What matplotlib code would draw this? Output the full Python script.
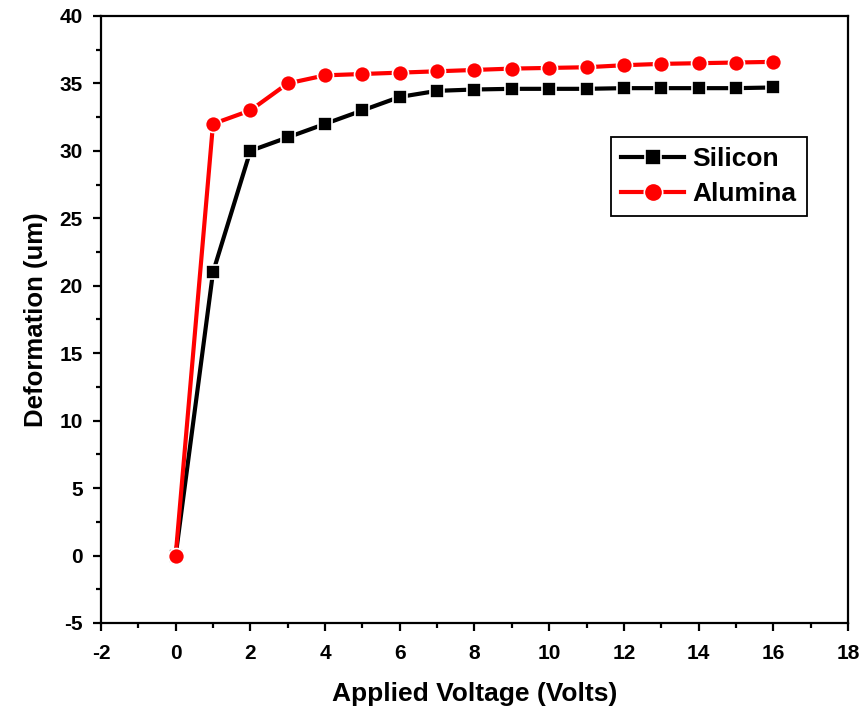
import matplotlib
matplotlib.use('Agg')
import matplotlib.pyplot as plt
from matplotlib.ticker import MultipleLocator

voltage = [0, 1, 2, 3, 4, 5, 6, 7, 8, 9, 10, 11, 12, 13, 14, 15, 16]
silicon = [0, 21, 30, 31, 32, 33, 34, 34.45, 34.55, 34.6, 34.6, 34.6, 34.65, 34.65, 34.65, 34.65, 34.7]
alumina = [0, 32, 33, 35, 35.6, 35.7, 35.8, 35.9, 36.0, 36.1, 36.15, 36.2, 36.35, 36.45, 36.5, 36.55, 36.6]

plt.rcParams['font.family'] = ['Liberation Sans', 'DejaVu Sans']
plt.rcParams['font.weight'] = 'bold'
plt.rcParams['axes.unicode_minus'] = False

fig = plt.figure(figsize=(8.6, 7.14), dpi=100)
ax = fig.add_axes([0.1174, 0.1275, 0.8686, 0.8501])

ax.plot(voltage, silicon, color='black', lw=3, marker='s', ms=10,
        mec='white', mew=1.2, label='Silicon')
ax.plot(voltage, alumina, color='red', lw=3, marker='o', ms=11.5,
        mec='white', mew=1.2, label='Alumina')

ax.set_xlim(-2, 18)
ax.set_ylim(-5, 40)
ax.xaxis.set_major_locator(MultipleLocator(2))
ax.xaxis.set_minor_locator(MultipleLocator(1))
ax.yaxis.set_major_locator(MultipleLocator(5))
ax.yaxis.set_minor_locator(MultipleLocator(2.5))

ax.tick_params(which='major', direction='out', length=6, width=1.6, labelsize=15)
ax.tick_params(axis='x', which='major', pad=9)
ax.tick_params(axis='y', which='major', pad=7)
ax.tick_params(which='minor', direction='out', length=3.5, width=1.6)
for s in ax.spines.values():
    s.set_linewidth(1.6)

ax.set_xlabel('Applied Voltage (Volts)', fontsize=19, fontweight='bold', labelpad=14)
ax.set_ylabel('Deformation (um)', fontsize=18.5, fontweight='bold', labelpad=8)

leg = ax.legend(loc='upper right', bbox_to_anchor=(0.945, 0.801), fontsize=19,
                fancybox=False, edgecolor='black', framealpha=1,
                handlelength=2.4, handletextpad=0.3, borderpad=0.4,
                labelspacing=0.4, borderaxespad=0, markerscale=1.15)
leg.get_frame().set_linewidth(1.3)

fig.savefig('out.png', dpi=100)
